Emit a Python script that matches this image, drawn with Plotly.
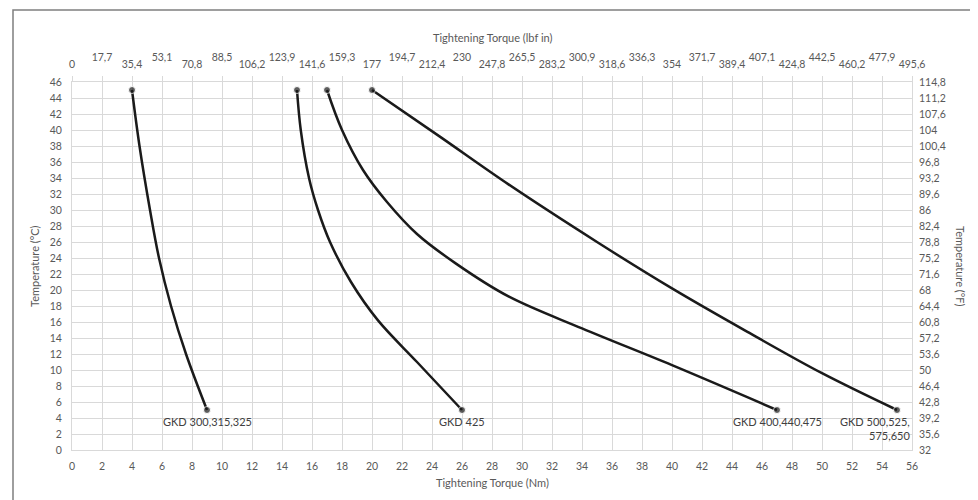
import plotly.graph_objects as go

# ---- data ----
torque_ticks_nm = list(range(0, 57, 2))
torque_ticks_lbfin = ["0", "17,7", "35,4", "53,1", "70,8", "88,5", "106,2", "123,9", "141,6",
                      "159,3", "177", "194,7", "212,4", "230", "247,8", "265,5", "283,2",
                      "300,9", "318,6", "336,3", "354", "371,7", "389,4", "407,1", "424,8",
                      "442,5", "460,2", "477,9", "495,6"]
temp_ticks_c = list(range(0, 47, 2))
temp_ticks_f = ["32", "35,6", "39,2", "42,8", "46,4", "50", "53,6", "57,2", "60,8", "64,4",
                "68", "71,6", "75,2", "78,8", "82,4", "86", "89,6", "93,2", "96,8", "100,4",
                "104", "107,6", "111,2", "114,8"]

gkd300_x = [4, 4.5, 5.2, 5.8, 6.6, 7.6, 9]
gkd300_y = [45, 38, 30, 24, 18, 12, 5]

gkd425_x = [15, 15.25, 15.8, 16.4, 17.2, 18.6, 20.4, 23, 26]
gkd425_y = [45, 40, 34, 30, 26, 21, 16.2, 11, 5]

gkd400_x = [17, 18, 19.4, 21, 23, 25.6, 29.1, 34, 40, 47]
gkd400_y = [45, 40, 35, 31, 27, 23.3, 19.2, 15.2, 10.6, 5]

gkd500_x = [20, 24.5, 29.1, 35, 40, 45, 50, 55]
gkd500_y = [45, 39.2, 33.2, 26.0, 20.2, 14.8, 9.6, 5]

series_labels = ["GKD 300,315,325", "GKD 425", "GKD 400,440,475", "GKD 500,525,<br>575,650"]
series_x = [gkd300_x, gkd425_x, gkd400_x, gkd500_x]
series_y = [gkd300_y, gkd425_y, gkd400_y, gkd500_y]

axis_titles = {
    "bottom": "Tightening Torque (Nm)",
    "top": "Tightening Torque (lbf in)",
    "left": "Temperature (°C)",
    "right": "Temperature (°F)",
}

# ---- layout geometry (pixels) ----
W, H = 978, 500
ML, MR, MT, MB = 64, 74, 74, 58
PW, PH = W - ML - MR, H - MT - MB


def px_x(p):
    return (p - ML) / PW


def px_y(p):
    return (H - MB - p) / PH


FONT = "Lato, 'Open Sans', sans-serif"
TXT = "#595959"
GRID = "#d9d9d9"
LINE = "#1a1a1a"

fig = go.Figure()
for name, xs, ys in zip(series_labels, series_x, series_y):
    n = len(xs)
    sizes = [7] + [0] * (n - 2) + [7]
    fig.add_trace(go.Scatter(
        x=xs, y=ys, mode="lines+markers", name=name,
        line=dict(color=LINE, width=2.5, shape="spline", smoothing=1.0),
        marker=dict(color=LINE, size=sizes),
        showlegend=False, hoverinfo="skip",
    ))

# dummy traces to activate secondary axes
fig.add_trace(go.Scatter(x=[None], y=[None], xaxis="x2", yaxis="y", showlegend=False))
fig.add_trace(go.Scatter(x=[None], y=[None], xaxis="x3", yaxis="y", showlegend=False))
fig.add_trace(go.Scatter(x=[None], y=[None], xaxis="x", yaxis="y2", showlegend=False))

labfont = dict(family=FONT, size=11, color="#404040")
for name, xs, ys in zip(series_labels, series_x, series_y):
    if "<br>" in name:
        fig.add_annotation(x=56, y=ys[-1], xref="x", yref="y", text=name,
                           showarrow=False, xanchor="right", yanchor="top", align="right",
                           yshift=-3, font=labfont)
    else:
        fig.add_annotation(x=xs[-1], y=ys[-1], xref="x", yref="y", text=name,
                           showarrow=False, xanchor="center", yanchor="top",
                           yshift=-3, font=labfont)

tickfont = dict(family=FONT, size=10.5, color=TXT)
titlefont = dict(family=FONT, size=11, color=TXT)

fig.update_layout(
    width=W, height=H,
    margin=dict(l=ML, r=MR, t=MT, b=MB, autoexpand=False),
    paper_bgcolor="white", plot_bgcolor="white",
    xaxis=dict(range=[0, 56], tickvals=torque_ticks_nm, ticktext=[str(v) for v in torque_ticks_nm],
               showgrid=True, gridcolor=GRID, gridwidth=1, showline=True, linecolor=GRID,
               linewidth=1, mirror=True, ticks="", zeroline=False, tickfont=tickfont,
               ticklabelstandoff=6, automargin=False),
    xaxis2=dict(range=[0, 56], overlaying="x", side="top", anchor="y",
                tickvals=torque_ticks_nm,
                ticktext=[t if i % 2 == 0 else "" for i, t in enumerate(torque_ticks_lbfin)],
                showgrid=False, ticks="outside", ticklen=5, tickcolor=GRID, zeroline=False,
                tickfont=tickfont, ticklabelstandoff=4, automargin=False),
    xaxis3=dict(range=[0, 56], overlaying="x", side="top", anchor="y",
                tickvals=torque_ticks_nm,
                ticktext=[t if i % 2 == 1 else "" for i, t in enumerate(torque_ticks_lbfin)],
                showgrid=False, ticks="", zeroline=False, tickfont=tickfont,
                ticklabelstandoff=18, automargin=False),
    yaxis=dict(range=[0, 46], tickvals=temp_ticks_c, ticktext=[str(v) for v in temp_ticks_c],
               showgrid=True, gridcolor=GRID, gridwidth=1, showline=True, linecolor=GRID,
               linewidth=1, mirror=True, ticks="", zeroline=False, tickfont=tickfont,
               ticklabelstandoff=7, automargin=False),
    yaxis2=dict(range=[0, 46], overlaying="y", side="right", anchor="x",
                tickvals=temp_ticks_c, ticktext=temp_ticks_f, showgrid=False, ticks="",
                zeroline=False, tickfont=tickfont, ticklabelstandoff=6, automargin=False),
)

# axis titles
fig.add_annotation(text=axis_titles["bottom"], xref="paper", yref="paper", x=0.5, y=px_y(474),
                   showarrow=False, xanchor="center", yanchor="middle", font=titlefont)
fig.add_annotation(text=axis_titles["top"], xref="paper", yref="paper", x=0.5, y=px_y(29),
                   showarrow=False, xanchor="center", yanchor="middle", font=titlefont)
fig.add_annotation(text=axis_titles["left"], xref="paper", yref="paper", x=px_x(26), y=0.5,
                   textangle=-90, showarrow=False, xanchor="center", yanchor="middle",
                   font=titlefont)
fig.add_annotation(text=axis_titles["right"], xref="paper", yref="paper", x=px_x(953), y=0.5,
                   textangle=90, showarrow=False, xanchor="center", yanchor="middle",
                   font=titlefont)

fig.add_shape(type="rect", xref="paper", yref="paper",
              x0=px_x(5), x1=px_x(971), y0=px_y(498), y1=px_y(2),
              line=dict(color="#7f7f7f", width=1.5), fillcolor="rgba(0,0,0,0)", layer="below")

fig.write_html("out.html")
